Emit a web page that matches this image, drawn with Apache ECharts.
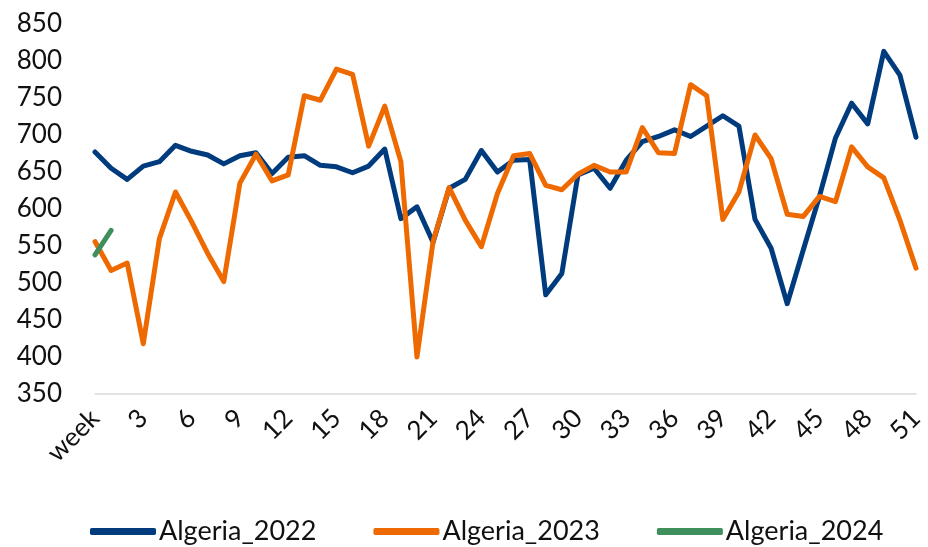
<!DOCTYPE html>
<html>
<head>
<meta charset="utf-8">
<script src="https://cdn.jsdelivr.net/npm/echarts@6/dist/echarts.min.js"></script>
<style>html,body{margin:0;padding:0;background:#fff}#c{width:928px;height:547px}</style>
</head>
<body>
<div id="c"></div>
<script>
const categories = ['week'];
for (let i = 1; i <= 51; i++) categories.push(String(i));

const algeria2022 = [677,655,640,658,664,686,678,673,661,672,676,648,670,672,659,657,649,658,681,587,603,555,628,640,679,650,666,667,484,513,646,655,628,666,691,698,707,698,712,726,712,586,547,472,545,617,696,743,715,813,781,697];
const algeria2023 = [556,517,527,418,560,623,583,540,502,635,674,638,646,753,747,789,782,685,739,664,400,556,629,585,549,621,672,675,632,626,647,659,650,650,710,676,675,768,753,586,623,700,668,593,590,617,610,684,657,642,585,520];
const algeria2024 = [538,571];

const seriesNames = ['Algeria_2022','Algeria_2023','Algeria_2024'];
const colors = ['#003C7D','#EE6A00','#3F8F5C'];

const font = 'Lato';
const chart = echarts.init(document.getElementById('c'));
chart.setOption({
  animation: false,
  color: colors,
  grid: {left: 95, right: 12, top: 24, bottom: 153},
  legend: {
    top: 518,
    left: 90,
    padding: 0,
    itemWidth: 66,
    itemHeight: 7,
    itemGap: 57,
    icon: 'roundRect',
    textStyle: {fontFamily: font, fontSize: 27, color: '#111', padding: [0,0,0,-2]},
    data: seriesNames
  },
  xAxis: {
    type: 'category',
    data: categories,
    boundaryGap: false,
    axisLine: {lineStyle: {color: '#d9d9d9', width: 1.5}},
    axisTick: {show: false},
    axisLabel: {interval: 2, rotate: 45, margin: 20, fontFamily: font, fontSize: 26, color: '#111'},
    splitLine: {show: false}
  },
  yAxis: {
    type: 'value',
    min: 350, max: 850, interval: 50,
    axisLine: {show: false},
    axisTick: {show: false},
    splitLine: {show: false},
    axisLabel: {fontFamily: font, fontSize: 26, color: '#111', margin: 33}
  },
  series: [
    {name: seriesNames[0], type: 'line', data: algeria2022, symbol: 'none', lineStyle: {width: 5, cap: 'round', join: 'round'}, z: 2},
    {name: seriesNames[1], type: 'line', data: algeria2023, symbol: 'none', lineStyle: {width: 5, cap: 'round', join: 'round'}, z: 3},
    {name: seriesNames[2], type: 'line', data: algeria2024, symbol: 'none', lineStyle: {width: 5, cap: 'round', join: 'round'}, z: 4}
  ]
});
</script>
</body>
</html>
